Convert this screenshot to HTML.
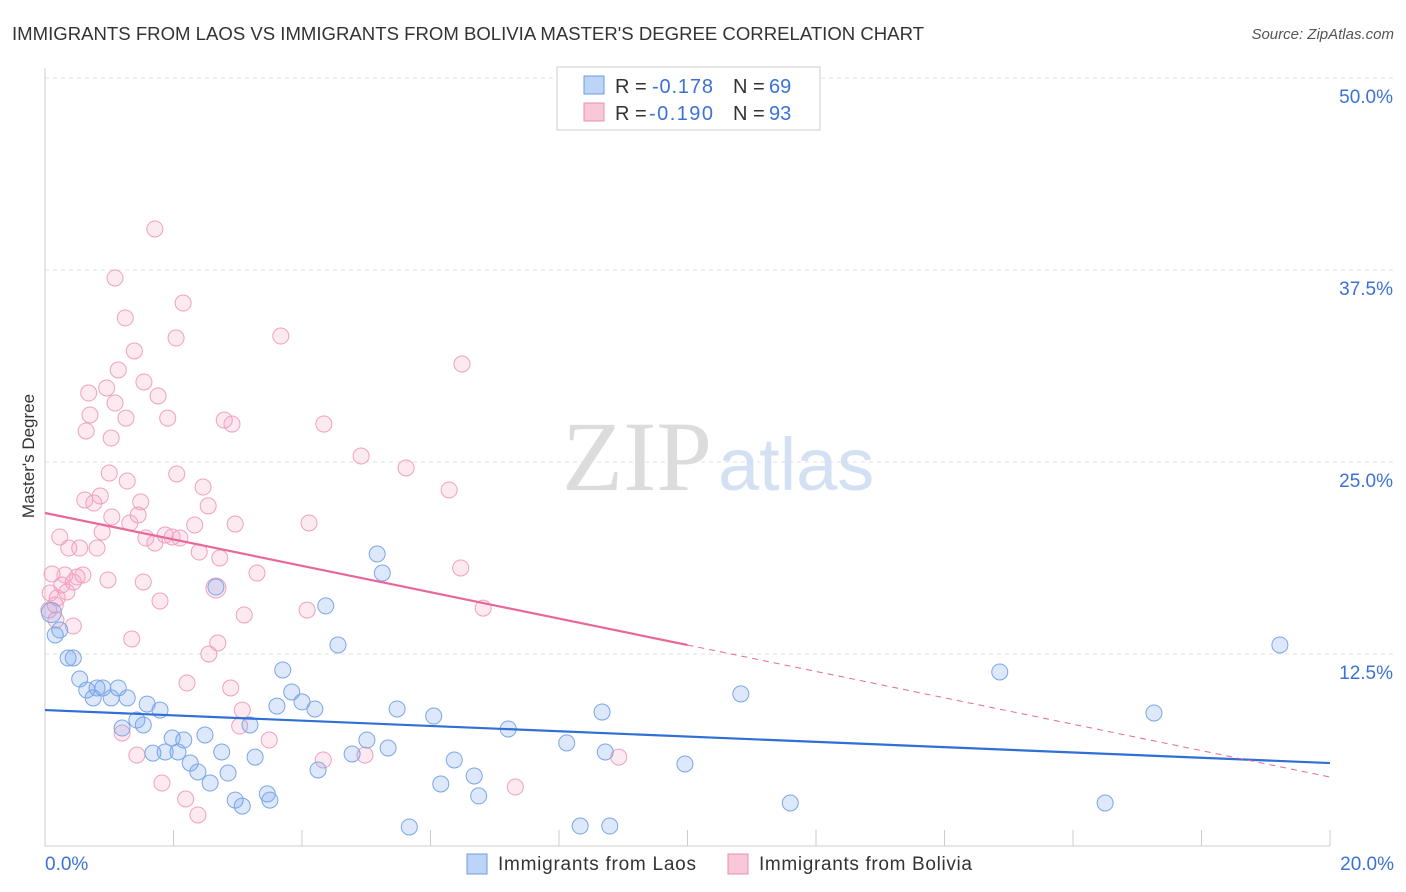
<!DOCTYPE html>
<html><head><meta charset="utf-8"><style>
body{margin:0;background:#fff;font-family:"Liberation Sans",sans-serif;}
svg{display:block}
</style></head><body>
<svg width="1406" height="892">
<text x="12" y="40" font-size="18" fill="#333" textLength="912" lengthAdjust="spacingAndGlyphs">IMMIGRANTS FROM LAOS VS IMMIGRANTS FROM BOLIVIA MASTER'S DEGREE CORRELATION CHART</text>
<text x="1394" y="39" font-size="15" fill="#555" font-style="italic" text-anchor="end">Source: ZipAtlas.com</text>
<g id="grid"></g>
<text x="712" y="490" font-size="100" font-family="Liberation Serif" fill="#dcdcdc" text-anchor="end">ZIP</text>
<text x="718" y="490" font-size="74" fill="#d3e1f3">atlas</text>
<text transform="translate(34,456) rotate(-90)" font-size="17" fill="#333" text-anchor="middle">Master's Degree</text>
<g id="marks"></g>
<rect x="557" y="67" width="263" height="63" fill="#fff" stroke="#ccc"/>
<rect x="584" y="76" width="20" height="18" fill="#bcd4f5" stroke="#6a9be0"/>
<rect x="584" y="103" width="20" height="18" fill="#f9c8d8" stroke="#eb8db0"/>
<g font-size="20" fill="#333">
<text x="615" y="93">R =</text><text x="652" y="93" fill="#3b72d6" textLength="61">-0.178</text><text x="733" y="93">N =</text><text x="769" y="93" fill="#3b72d6">69</text>
</g>
<g font-size="20" fill="#333">
<text x="615" y="120">R =</text><text x="649" y="120" fill="#3b72d6" textLength="64">-0.190</text><text x="733" y="120">N =</text><text x="769" y="120" fill="#3b72d6">93</text>
</g>
<rect x="467" y="854" width="20" height="20" fill="#bcd4f5" stroke="#6a9be0"/>
<text x="498" y="870" font-size="19" fill="#333" textLength="198">Immigrants from Laos</text>
<rect x="728" y="854" width="20" height="20" fill="#f9c8d8" stroke="#eb8db0"/>
<text x="759" y="870" font-size="19" fill="#333" textLength="213">Immigrants from Bolivia</text>
</svg>
<script>
const laosX=[0.16,0.23,0.36,0.44,0.54,0.65,0.75,0.81,0.90,1.03,1.14,1.28,1.20,1.43,1.53,1.59,1.79,1.68,1.87,1.98,2.07,2.16,2.26,2.38,2.49,2.57,2.75,2.85,2.96,3.07,3.27,3.19,3.46,3.50,3.61,3.70,3.84,4.00,4.20,4.25,4.37,4.56,4.78,5.01,5.17,5.25,5.34,5.48,5.67,6.05,6.16,6.37,6.68,6.75,7.21,8.12,8.33,8.67,8.72,8.79,9.96,10.83,11.60,14.86,16.50,17.26,19.22,2.66,0.10];
const laosY=[13.74,14.06,12.24,12.24,10.87,10.16,9.64,10.29,10.29,9.64,10.29,9.64,7.68,8.20,7.88,9.24,8.85,6.05,6.12,7.03,6.12,6.90,5.40,4.82,7.23,4.10,6.12,4.75,2.99,2.60,5.79,7.88,3.39,2.99,9.11,11.46,10.03,9.38,8.92,4.95,15.63,13.09,5.99,6.90,19.01,17.77,6.38,8.92,1.24,8.46,4.04,5.60,4.56,3.26,7.62,6.71,1.30,8.72,6.12,1.30,5.34,9.90,2.80,11.33,2.80,8.66,13.09,16.86,15.2];
const bolX=[1.71,1.09,2.15,1.25,3.67,2.04,1.39,1.14,6.49,1.54,0.96,0.68,1.76,1.09,0.70,1.91,1.26,2.79,2.91,4.34,0.64,1.03,4.92,5.62,1.00,2.05,1.28,6.29,2.46,0.62,0.86,0.76,1.49,2.54,1.04,1.45,1.32,2.33,2.96,4.11,0.89,0.23,1.57,1.87,1.98,2.10,1.71,0.37,0.54,0.81,2.40,2.72,6.47,0.11,0.31,0.50,0.59,3.30,1.53,0.26,0.44,0.98,0.08,0.19,0.34,0.16,0.06,1.79,4.08,6.82,3.10,0.17,0.44,1.35,2.69,2.55,2.21,2.89,3.07,1.20,3.03,3.49,1.43,4.33,4.98,8.93,1.82,2.19,2.38,7.32,2.66];
const bolY=[40.17,36.98,35.35,34.38,33.20,33.07,32.23,30.99,31.38,30.21,29.82,29.49,29.30,28.84,28.06,27.86,27.86,27.73,27.47,27.47,27.02,26.56,25.39,24.61,24.28,24.22,23.76,23.18,23.37,22.53,22.79,22.33,22.40,22.14,21.42,21.55,21.03,20.90,20.96,21.03,20.44,20.12,20.05,20.25,20.12,20.05,19.73,19.40,19.40,19.40,19.14,18.75,18.10,17.71,17.64,17.51,17.64,17.77,17.19,16.99,17.19,17.32,16.47,16.15,16.54,15.69,15.36,15.95,15.36,15.49,15.04,14.71,14.32,13.48,13.22,12.50,10.61,10.29,8.85,7.36,7.81,6.90,5.92,5.60,5.92,5.79,4.10,3.06,2.02,3.84,16.8];
const yTicks=[12.5,25,37.5,50];
const yTickLabels=["12.5%","25.0%","37.5%","50.0%"];
const xTicks=[0,2,4,6,8,10,12,14,16,18,20];
const laosFit=[8.85,5.40];
const bolFit=[21.68,4.49];
const NS="http://www.w3.org/2000/svg";
const sx=v=>45+v/20*1285, sy=v=>846-v/50*768;
function mk(tag,attrs,parent){const e=document.createElementNS(NS,tag);for(const k in attrs)e.setAttribute(k,attrs[k]);parent.appendChild(e);return e;}
const grid=document.getElementById('grid'), marks=document.getElementById('marks');
yTicks.forEach((t,i)=>{
 let l=mk('line',{x1:45,x2:1394,y1:sy(t),y2:sy(t),stroke:'#e2e2e2','stroke-dasharray':'4,4'},grid);
 
 
 let tx=mk('text',{x:1393,y:sy(t)+25,'font-size':19,fill:'#3b72d6','text-anchor':'end'},grid);
 tx.textContent=yTickLabels[i];
 
 
});
let ax=mk('line',{x1:45,x2:1330,y1:846,y2:846,stroke:'#ccc'},grid);


let ay=mk('line',{x1:45,x2:45,y1:68,y2:846,stroke:'#ccc'},grid);


xTicks.forEach(t=>{
 let l=mk('line',{x1:sx(t),x2:sx(t),y1:830,y2:846,stroke:'#ccc'},grid);
 
 
});
[[0,"0.0%",'start',45],[20,"20.0%",'end',1394]].forEach(([v,s,a,x])=>{
 let tx=mk('text',{x:x,y:870,'font-size':19,fill:'#3b72d6','text-anchor':a},grid);
 tx.textContent=s;
 
 
});
function pts(X,Y,fill,stroke,name){
 X.forEach((x,i)=>{
  let c=mk('circle',{cx:sx(x),cy:sy(Y[i]),r:(i==X.length-1)?10:8,fill:fill,stroke:stroke,'stroke-width':1},marks);
  
  
 });
}
pts(bolX,bolY,'rgba(244,160,190,0.22)','#f0a0bf','bolivia-point');
pts(laosX,laosY,'rgba(120,165,235,0.25)','#7aa6e6','laos-point');
let bl=mk('line',{x1:sx(0),y1:sy(laosFit[0]),x2:sx(20),y2:sy(laosFit[1]),stroke:'#2f6fd6','stroke-width':2.2},marks);


const pm=bolFit[0]+(bolFit[1]-bolFit[0])*0.5;
let pl=mk('line',{x1:sx(0),y1:sy(bolFit[0]),x2:sx(10),y2:sy(pm),stroke:'#e8689a','stroke-width':2.2},marks);


let pd=mk('line',{x1:sx(10),y1:sy(pm),x2:sx(20),y2:sy(bolFit[1]),stroke:'#e8689a','stroke-width':1,'stroke-dasharray':'6,5'},marks);


</script>
</body></html>
